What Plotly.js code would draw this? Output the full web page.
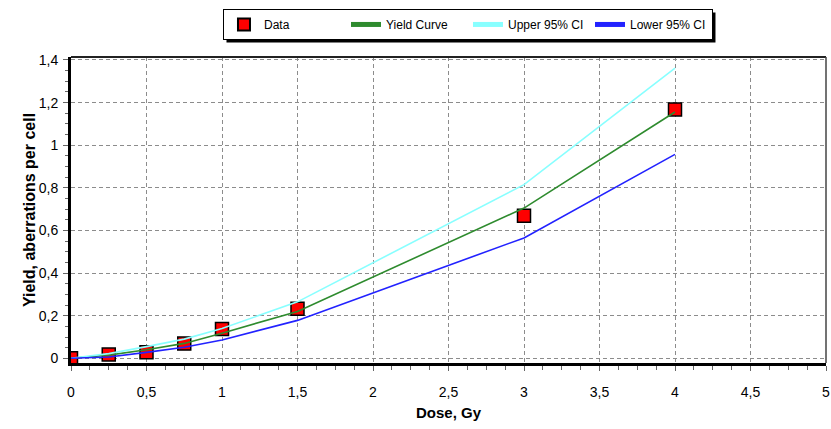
<!DOCTYPE html>
<html>
<head>
<meta charset="utf-8">
<script src="https://cdn.plot.ly/plotly-3.0.1.min.js"></script>
<style>html,body{margin:0;padding:0;background:#fff;}#chart{width:831px;height:429px;}</style>
</head>
<body>
<div id="chart"></div>
<script>
// Data
const doseData = [0, 0.25, 0.5, 0.75, 1, 1.5, 3, 4];
const yieldData = [0, 0.018, 0.029, 0.069, 0.137, 0.233, 0.669, 1.168];

const doseCurve = [0, 0.25, 0.5, 0.75, 1, 1.5, 3, 4];
const yieldCurve = [0, 0.015, 0.04, 0.07, 0.118, 0.22, 0.705, 1.156];
const upperCI = [0, 0.022, 0.055, 0.09, 0.14, 0.265, 0.815, 1.362];
const lowerCI = [0, 0.006, 0.028, 0.052, 0.086, 0.178, 0.565, 0.957];

const xTickVals = [0, 0.5, 1, 1.5, 2, 2.5, 3, 3.5, 4, 4.5, 5];
const xTickText = ['0', '0,5', '1', '1,5', '2', '2,5', '3', '3,5', '4', '4,5', '5'];
const yTickVals = [0, 0.2, 0.4, 0.6, 0.8, 1, 1.2, 1.4];
const yTickText = ['0', '0,2', '0,4', '0,6', '0,8', '1', '1,2', '1,4'];

const sans = 'Liberation Sans, Arial, sans-serif';
const M = {l: 71, r: 5, t: 57, b: 66};
const W = 831, H = 429;

const traces = [
  {x: doseData, y: yieldData, name: 'Data', mode: 'markers', type: 'scatter',
   marker: {symbol: 'square', size: 13, color: '#ff0000', line: {color: '#000', width: 1.5}}},
  {x: doseCurve, y: yieldCurve, name: 'Yield Curve', mode: 'lines', type: 'scatter',
   line: {color: '#2e8b2e', width: 1.6}},
  {x: doseCurve, y: upperCI, name: 'Upper 95% CI', mode: 'lines', type: 'scatter',
   line: {color: '#88ffff', width: 1.6}},
  {x: doseCurve, y: lowerCI, name: 'Lower 95% CI', mode: 'lines', type: 'scatter',
   line: {color: '#2222ff', width: 1.6}}
];

const layout = {
  width: W, height: H,
  margin: {l: M.l, r: M.r, t: M.t, b: M.b, pad: 0},
  paper_bgcolor: '#fff', plot_bgcolor: '#fff',
  separators: ', ',
  font: {family: sans, size: 14, color: '#000'},
  showlegend: true,
  legend: {
    orientation: 'h', x: 0.2013, xanchor: 'left', y: 1.157, yanchor: 'top',
    bgcolor: '#fff', bordercolor: '#000', borderwidth: 1,
    font: {family: sans, size: 12, color: '#000'},
    entrywidth: 77, itemwidth: 30, itemsizing: 'constant'
  },
  xaxis: {
    range: [0, 5], tickvals: xTickVals, ticktext: xTickText,
    showgrid: true, gridcolor: '#8c8c8c', gridwidth: 1, griddash: '4px,3px',
    showline: true, linecolor: '#000', linewidth: 3, zeroline: false,
    ticks: 'outside', ticklen: 5, tickcolor: '#666', tickwidth: 1, ticklabelstandoff: 9,
    minor: {dtick: 0.125, tick0: 0, ticks: 'outside', ticklen: 4, tickcolor: '#666', showgrid: false},
    tickfont: {family: sans, size: 14, color: '#000'},
    title: {text: '<b>Dose, Gy</b>', font: {family: sans, size: 15, color: '#000'}, standoff: 9}
  },
  yaxis: {
    range: [-0.022, 1.414], tickvals: yTickVals, ticktext: yTickText,
    showgrid: true, gridcolor: '#8c8c8c', gridwidth: 1, griddash: '4px,3px',
    showline: true, linecolor: '#000', linewidth: 3, zeroline: false,
    ticks: 'outside', ticklen: 5, tickcolor: '#666', tickwidth: 1, ticklabelstandoff: 2,
    minor: {dtick: 0.05, tick0: 0, ticks: 'outside', ticklen: 3, tickcolor: '#666', showgrid: false},
    tickfont: {family: sans, size: 14, color: '#000'},
    title: {text: '<b>Yield, aberrations per cell</b>', font: {family: sans, size: 16, color: '#000'}, standoff: 0}
  },
  shapes: [
    {type: 'line', xref: 'paper', yref: 'paper', x0: 0, x1: 1, y0: 1, y1: 1, line: {color: '#222', width: 2}},
    {type: 'line', xref: 'paper', yref: 'paper', x0: 1, x1: 1, y0: 0, y1: 1, line: {color: '#444', width: 1.5}}
  ]
};

Plotly.newPlot('chart', traces, layout, {displayModeBar: false, staticPlot: true}).then(function (gd) {
  // drop shadow behind the legend box, offset 3px right/down
  const bg = gd.querySelector('.legend .bg');
  if (!bg) return;
  const r = bg.getBoundingClientRect();
  const c = gd.getBoundingClientRect();
  const pw = W - M.l - M.r, ph = H - M.t - M.b;
  const px = v => (v - c.left - M.l) / pw;
  const py = v => (H - M.b - (v - c.top)) / ph;
  const shapes = layout.shapes.concat([{
    type: 'rect', xref: 'paper', yref: 'paper',
    x0: px(r.left + 3), x1: px(r.right + 3), y0: py(r.bottom + 3), y1: py(r.top + 3),
    fillcolor: '#000', line: {width: 0}, layer: 'above'
  }]);
  return Plotly.relayout(gd, {shapes: shapes});
});
</script>
</body>
</html>
